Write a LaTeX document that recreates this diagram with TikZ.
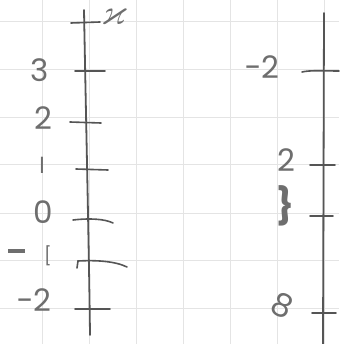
\documentclass[tikz,border=0pt]{standalone}
\usepackage{amssymb}
\usepackage{fontspec}
\setmainfont{Poppins}
\definecolor{ink}{HTML}{555555}
\definecolor{lab}{HTML}{6E6E6E}
\definecolor{grid}{HTML}{E4E4E4}
\begin{document}
\begin{tikzpicture}[x=1pt,y=-1pt,
  axis/.style={draw=ink,line width=1.8pt,line cap=round},
  tick/.style={draw=ink,line width=1.6pt,line cap=round},
  lbl/.style={text=lab,inner sep=0pt,font=\fontsize{31}{32}\selectfont}]
\useasboundingbox (0,0) rectangle (339,344);
\fill[white] (0,0) rectangle (339,344);
% grid
\foreach \gx in {42,89,136,183,230,277,324} \draw[grid,line width=1pt] (\gx,0) -- (\gx,344);
\foreach \gy in {22,70,118,165,213,260,308} \draw[grid,line width=1pt] (0,\gy) -- (339,\gy);
% left axis
\draw[axis] (84,10) .. controls (86,120) and (89,250) .. (90,335);
\draw[tick] (71,23) -- (100,22);
\draw[tick] (75,71) -- (105,71);
\draw[tick] (70,122) -- (101,123);
\draw[tick] (76,169) -- (108,170);
\draw[tick] (73,220) .. controls (90,218) and (105,219) .. (113,223);
\draw[tick] (77,268) -- (78,261) .. controls (95,260) and (115,261) .. (127,267);
\draw[tick] (75,309) -- (110,309);
\node[text=lab,inner sep=0pt,anchor=south,font=\fontsize{36}{36}\selectfont] (xl) at (114,25) {$\varkappa$};
\node[lbl] (l3) at (40,70) {3};
\node[lbl] (l2) at (43,118) {2};
\node[text=lab,inner sep=0pt,font=\fontsize{22}{22}\selectfont] (l1) at (42,165) {l};
\node[lbl] (l0) at (43,212) {0};
\draw[lab,line width=4.5pt] (8,251) -- (25,251);
\node[text=lab,inner sep=0pt,font=\fontsize{18}{18}\selectfont] (lb) at (48,256) {[};
\node[lbl] (lm2) at (34,300) {−2};
% right axis
\draw[axis] (324,13) -- (323,344);
\draw[tick] (302,72) .. controls (310,70) and (325,71) .. (339,71);
\draw[tick] (310,165) -- (335,165);
\draw[tick] (310,216) -- (333,216);
\draw[tick] (312,313) -- (336,313);
\node[lbl] (rm2) at (262,67) {−2};
\node[lbl] (r2) at (286,160) {2};
\node[text=lab,inner sep=0pt,font=\fontsize{36}{36}\selectfont\bfseries] (rb) at (285,206) {\}};
\node[text=lab,inner sep=0pt,font=\fontsize{32}{32}\selectfont,rotate=-25] (r8) at (282,305) {8};
\end{tikzpicture}
\end{document}
